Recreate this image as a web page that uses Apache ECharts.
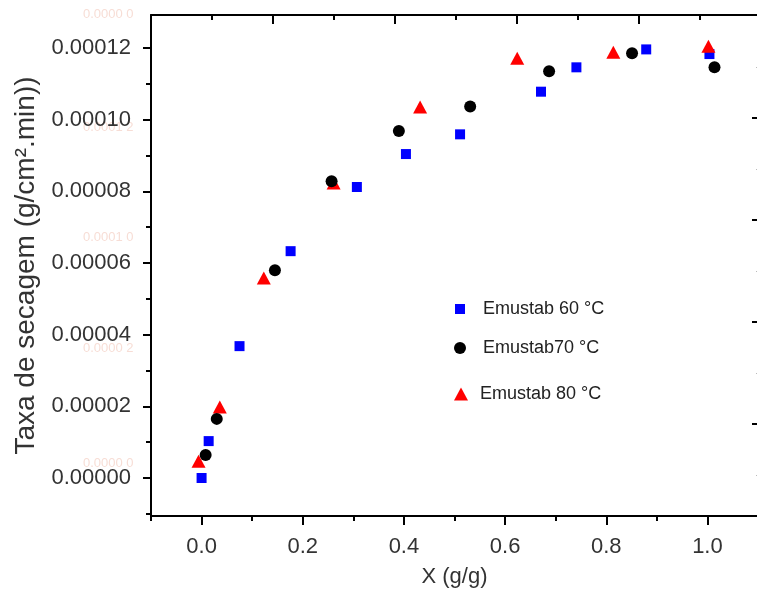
<!DOCTYPE html>
<html>
<head>
<meta charset="utf-8">
<script src="https://cdn.jsdelivr.net/npm/echarts@6/dist/echarts.min.js"></script>
<style>
  html, body { margin: 0; padding: 0; background: #fff; }
  #chart { width: 757px; height: 591px; }
</style>
</head>
<body>
<div id="chart"></div>
<script>
// Drying rate vs. moisture content for Emustab at three temperatures
const seriesNames = ['Emustab 60 °C', 'Emustab70 °C', 'Emustab 80 °C'];

// [X (g/g), rate (g/cm².min)]
const emustab60 = [
  [0.000, 0.0000000], [0.014, 0.0000103], [0.075, 0.0000368], [0.176, 0.0000633],
  [0.307, 0.0000812], [0.404, 0.0000904], [0.511, 0.0000959], [0.671, 0.0001078],
  [0.741, 0.0001146], [0.879, 0.0001196], [1.004, 0.0001183]
];
const emustab70 = [
  [0.008, 0.0000064], [0.030, 0.0000165], [0.145, 0.0000580], [0.257, 0.0000828],
  [0.390, 0.0000968], [0.531, 0.0001037], [0.687, 0.0001135], [0.851, 0.0001185],
  [1.014, 0.0001146]
];
const emustab80 = [
  [-0.006, 0.0000047], [0.036, 0.0000198], [0.123, 0.0000558], [0.261, 0.0000823],
  [0.432, 0.0001035], [0.624, 0.0001171], [0.814, 0.0001188], [1.002, 0.0001205]
];

// Axis tick values
const xMajorTicks = [0, 0.2, 0.4, 0.6, 0.8, 1.0];
const xMinorTicks = [-0.1, 0.1, 0.3, 0.5, 0.7, 0.9, 1.1];
const yMajorTicks = [0, 0.00002, 0.00004, 0.00006, 0.00008, 0.0001, 0.00012];
const yMinorTicks = [-0.00001, 0.00001, 0.00003, 0.00005, 0.00007, 0.00009, 0.00011];
const rightMajorTicks = [0, 1, 2, 3];
const rightMinorTicks = [-0.5, 0.5, 1.5, 2.5, 3.5];

const FONT = '"Liberation Sans", Arial, sans-serif';
const X_MIN = -0.1, X_MAX = 1.1;
const Y_MIN = -0.0000106, Y_MAX = 0.0001292;

const chart = echarts.init(document.getElementById('chart'), null, { renderer: 'canvas' });

const lineStyle = { color: '#000', width: 2 };
const noLine = { show: false, onZero: false };
const hidden = { show: false };

function tickAxis(base, ticks, length, inside, style) {
  return Object.assign({
    type: 'value',
    axisLine: noLine,
    axisTick: { show: true, inside, length, lineStyle: style || { color: '#000', width: 2 }, customValues: ticks },
    axisLabel: hidden,
    splitLine: hidden
  }, base);
}

chart.setOption({
  animation: false,
  backgroundColor: '#fff',
  grid: { left: 151, top: 15, right: -1, bottom: 75, containLabel: false, outerBoundsMode: 'none' },
  xAxis: [
    {
      type: 'value', position: 'bottom', min: X_MIN, max: X_MAX,
      axisLine: { show: true, onZero: false, lineStyle },
      axisTick: { show: true, inside: false, length: 9, lineStyle: { color: '#000', width: 2 }, customValues: xMajorTicks },
      axisLabel: { show: true, customValues: xMajorTicks, margin: 20, color: '#333', fontSize: 22, fontFamily: FONT,
        formatter: v => v.toFixed(1) },
      splitLine: hidden,
      name: 'X (g/g)', nameLocation: 'middle', nameGap: 50,
      nameTextStyle: { color: '#333', fontSize: 22, fontFamily: FONT }
    },
    {
      // top frame axis with its own tick spacing
      type: 'value', position: 'top', min: 0, max: 4.975, interval: 1,
      axisLine: { show: true, onZero: false, lineStyle },
      axisTick: { show: true, inside: true, length: 9, lineStyle: { color: '#000', width: 2 } },
      minorTick: { show: true, splitNumber: 2, length: 5, lineStyle: { color: '#000', width: 2 } },
      axisLabel: hidden, splitLine: hidden, minorSplitLine: hidden
    },
    tickAxis({ position: 'bottom', min: X_MIN, max: X_MAX }, xMinorTicks, 5, false)
  ],
  yAxis: [
    {
      type: 'value', position: 'left', min: Y_MIN, max: Y_MAX,
      axisLine: { show: true, onZero: false, lineStyle },
      axisTick: { show: true, inside: false, length: 8, lineStyle: { color: '#000', width: 2 }, customValues: yMajorTicks },
      axisLabel: { show: true, customValues: yMajorTicks, margin: 20, color: '#333', fontSize: 22, fontFamily: FONT,
        formatter: v => Math.abs(v).toFixed(5) },
      splitLine: hidden,
      name: 'Taxa de secagem (g/cm².min))', nameLocation: 'middle', nameGap: 110,
      nameTextStyle: { color: '#333', fontSize: 28, fontFamily: FONT }
    },
    tickAxis({ position: 'right', min: -0.9, max: 4.01, axisLine: { show: true, onZero: false, lineStyle } }, rightMajorTicks, 6, true),
    tickAxis({ position: 'left', min: Y_MIN, max: Y_MAX }, yMinorTicks, 5, false),
    tickAxis({ position: 'right', min: -0.9, max: 4.01 }, rightMinorTicks, 2, true, { color: '#bbb', width: 1 })
  ],
  legend: [
    { data: [seriesNames[0]], left: 450, top: 295, orient: 'vertical', selectedMode: false,
      icon: 'rect', itemWidth: 10, itemHeight: 10,
      textStyle: { color: '#222', fontSize: 18, fontFamily: FONT, padding: [0, 0, 0, 13] } },
    { data: [seriesNames[1]], left: 449, top: 334, orient: 'vertical', selectedMode: false,
      icon: 'circle', itemWidth: 12, itemHeight: 12,
      textStyle: { color: '#222', fontSize: 18, fontFamily: FONT, padding: [0, 0, 0, 12] } },
    { data: [seriesNames[2]], left: 449, top: 380, orient: 'vertical', selectedMode: false,
      icon: 'triangle', itemWidth: 14, itemHeight: 13,
      textStyle: { color: '#222', fontSize: 18, fontFamily: FONT, padding: [0, 0, 0, 7] } }
  ],
  graphic: [
    // faint residual labels beside the left axis
    { type: 'text', left: 83, top: 8, silent: true, style: { text: '0.0000 0', fill: 'rgba(235,170,150,0.4)', font: '13px ' + FONT } },
    { type: 'text', left: 83, top: 121, silent: true, style: { text: '0.0001 2', fill: 'rgba(235,170,150,0.4)', font: '13px ' + FONT } },
    { type: 'text', left: 83, top: 231, silent: true, style: { text: '0.0001 0', fill: 'rgba(235,170,150,0.4)', font: '13px ' + FONT } },
    { type: 'text', left: 83, top: 342, silent: true, style: { text: '0.0000 2', fill: 'rgba(235,170,150,0.4)', font: '13px ' + FONT } },
    { type: 'text', left: 83, top: 457, silent: true, style: { text: '0.0000 0', fill: 'rgba(235,170,150,0.4)', font: '13px ' + FONT } }
  ],
  series: [
    { name: seriesNames[0], type: 'scatter', data: emustab60, symbol: 'rect', symbolSize: 10,
      itemStyle: { color: '#0000ff', opacity: 1 }, xAxisIndex: 0, yAxisIndex: 0, z: 2 },
    { name: seriesNames[2], type: 'scatter', data: emustab80, symbol: 'triangle', symbolSize: [14, 13],
      itemStyle: { color: '#ff0000', opacity: 1 }, xAxisIndex: 0, yAxisIndex: 0, z: 3 },
    { name: seriesNames[1], type: 'scatter', data: emustab70, symbol: 'circle', symbolSize: 12,
      itemStyle: { color: '#000000', opacity: 1 }, xAxisIndex: 0, yAxisIndex: 0, z: 4 }
  ]
});
</script>
</body>
</html>
